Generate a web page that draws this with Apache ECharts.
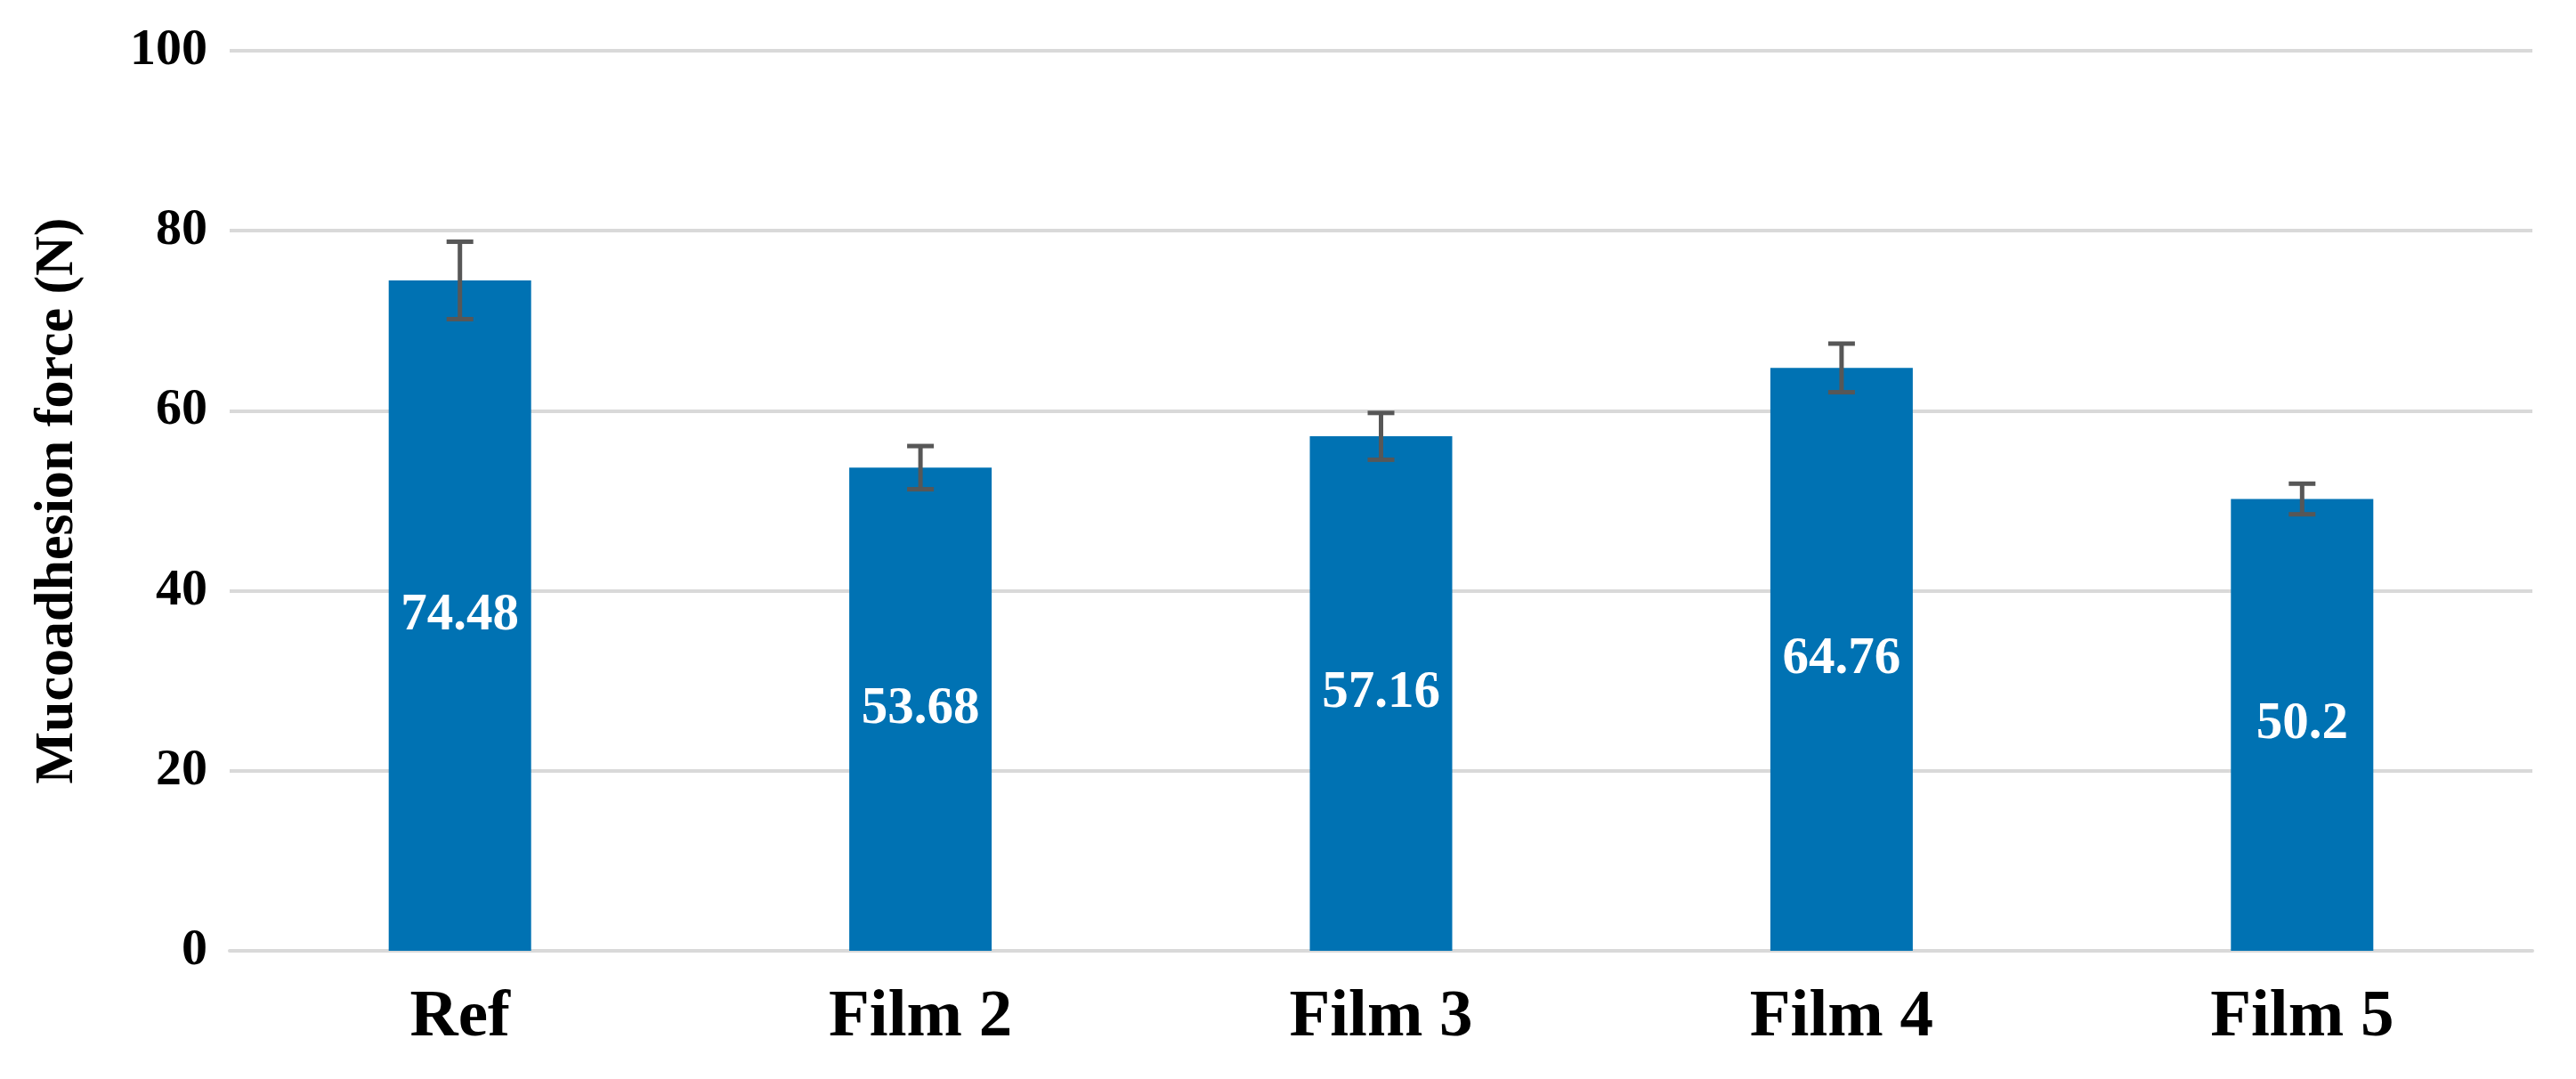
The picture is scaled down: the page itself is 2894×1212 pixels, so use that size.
<!DOCTYPE html>
<html>
<head>
<meta charset="utf-8">
<script src="https://cdn.jsdelivr.net/npm/echarts@6/dist/echarts.min.js"></script>
<style>
html,body{margin:0;padding:0;background:#fff;}
#chart{width:2894px;height:1212px;}
</style>
</head>
<body>
<div id="chart"></div>
<script>
const categories = ['Ref', 'Film 2', 'Film 3', 'Film 4', 'Film 5'];
const forceValues = [74.48, 53.68, 57.16, 64.76, 50.2];
const forceErrors = [4.3, 2.4, 2.6, 2.7, 1.7];
const yTicks = [0, 20, 40, 60, 80, 100];

const FONT = '"Liberation Serif", "Times New Roman", serif';
const errData = categories.map((c, i) => [i, forceValues[i] - forceErrors[i], forceValues[i] + forceErrors[i]]);

const chart = echarts.init(document.getElementById('chart'), null, {renderer: 'canvas'});
chart.setOption({
  backgroundColor: '#ffffff',
  animation: false,
  grid: {left: 258, right: 49, top: 57, bottom: 144, containLabel: false},
  xAxis: {
    type: 'category',
    data: categories,
    axisLine: {show: true, lineStyle: {color: '#d9d9d9', width: 4}},
    axisTick: {show: false},
    axisLabel: {
      color: '#000', fontFamily: FONT, fontWeight: 'bold', fontSize: 75,
      lineHeight: 75, margin: 38
    }
  },
  yAxis: {
    type: 'value',
    min: yTicks[0], max: yTicks[yTicks.length - 1], interval: 20,
    name: 'Mucoadhesion force (N)',
    nameLocation: 'middle',
    nameGap: 162,
    nameTextStyle: {color: '#000', fontFamily: FONT, fontWeight: 'bold', fontSize: 62},
    axisLine: {show: false},
    axisTick: {show: false},
    splitLine: {lineStyle: {color: '#d9d9d9', width: 4}},
    axisLabel: {
      color: '#000', fontFamily: FONT, fontWeight: 'bold', fontSize: 58,
      margin: 25
    }
  },
  series: [
    {
      type: 'bar',
      data: forceValues,
      barWidth: 160,
      itemStyle: {color: '#0072B3'},
      label: {
        show: true,
        position: 'inside',
        color: '#ffffff',
        fontFamily: FONT,
        fontWeight: 'bold',
        fontSize: 59,
        formatter: p => String(p.value)
      },
      z: 2
    },
    {
      type: 'custom',
      data: errData,
      z: 5,
      renderItem: function (params, api) {
        const x = api.value(0);
        const lo = api.coord([x, api.value(1)]);
        const hi = api.coord([x, api.value(2)]);
        const hw = 15;
        const style = {stroke: '#575757', lineWidth: 5};
        return {
          type: 'group',
          children: [
            {type: 'line', shape: {x1: hi[0], y1: hi[1], x2: lo[0], y2: lo[1]}, style: style},
            {type: 'line', shape: {x1: hi[0] - hw, y1: hi[1], x2: hi[0] + hw, y2: hi[1]}, style: style},
            {type: 'line', shape: {x1: lo[0] - hw, y1: lo[1], x2: lo[0] + hw, y2: lo[1]}, style: style}
          ]
        };
      }
    }
  ]
});
</script>
</body>
</html>
